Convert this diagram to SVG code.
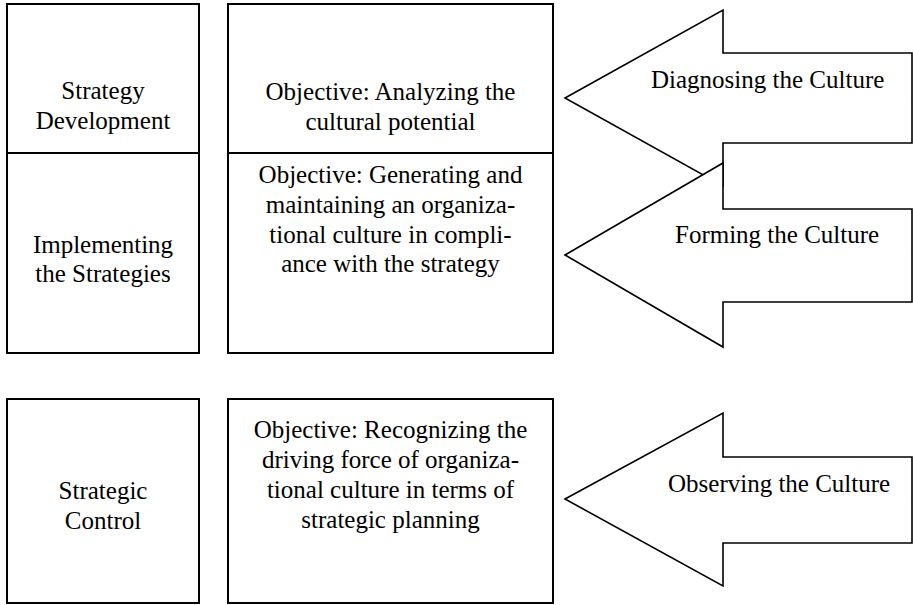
<svg xmlns="http://www.w3.org/2000/svg" width="913" height="605" viewBox="0 0 913 605">
<style>
.box{fill:#fff;stroke:#000;stroke-width:2}
.arrow{fill:#fff;stroke:#000;stroke-width:1.6;stroke-linejoin:miter}
text{font-family:"Liberation Serif","Times New Roman",serif;font-size:25px;fill:#000}
.c{text-anchor:middle}
</style>
<rect width="913" height="605" fill="#fff"/>
<g id="connectors">
<polygon id="arrow-diagnosing" class="arrow" points="565,98 723,10 723,53 912,53 912,143 723,143 723,186"/>
<polygon id="arrow-forming" class="arrow" points="565,255 723,163 723,209 912,209 912,302 723,302 723,347"/>
<polygon id="arrow-observing" class="arrow" points="565,499 723,413 723,457 912,457 912,543 723,543 723,586"/>
<text x="651" y="88">Diagnosing the Culture</text>
<text x="675" y="243">Forming the Culture</text>
<text x="668" y="492">Observing the Culture</text>
</g>
<g id="node-strategy-development">
<rect class="box" x="7" y="4" width="192" height="149"/>
<text class="c" x="103" y="99">Strategy</text>
<text class="c" x="103" y="129">Development</text>
</g>
<g id="node-implementing">
<rect class="box" x="7" y="153" width="192" height="200"/>
<text class="c" x="103" y="253">Implementing</text>
<text class="c" x="103" y="282">the Strategies</text>
</g>
<g id="node-analyzing">
<rect class="box" x="228" y="4" width="325" height="149"/>
<text class="c" x="390.5" y="100">Objective: Analyzing the</text>
<text class="c" x="390.5" y="130">cultural potential</text>
</g>
<g id="node-generating">
<rect class="box" x="228" y="153" width="325" height="200"/>
<text class="c" x="390.5" y="183">Objective: Generating and</text>
<text class="c" x="390.5" y="213">maintaining an organiza-</text>
<text class="c" x="390.5" y="243">tional culture in compli-</text>
<text class="c" x="390.5" y="272">ance with the strategy</text>
</g>
<g id="node-strategic-control">
<rect class="box" x="7" y="399" width="192" height="204"/>
<text class="c" x="103" y="499">Strategic</text>
<text class="c" x="103" y="529">Control</text>
</g>
<g id="node-recognizing">
<rect class="box" x="228" y="399" width="325" height="204"/>
<text class="c" x="390.5" y="438">Objective: Recognizing the</text>
<text class="c" x="390.5" y="468">driving force of organiza-</text>
<text class="c" x="390.5" y="498">tional culture in terms of</text>
<text class="c" x="390.5" y="528">strategic planning</text>
</g>
</svg>
